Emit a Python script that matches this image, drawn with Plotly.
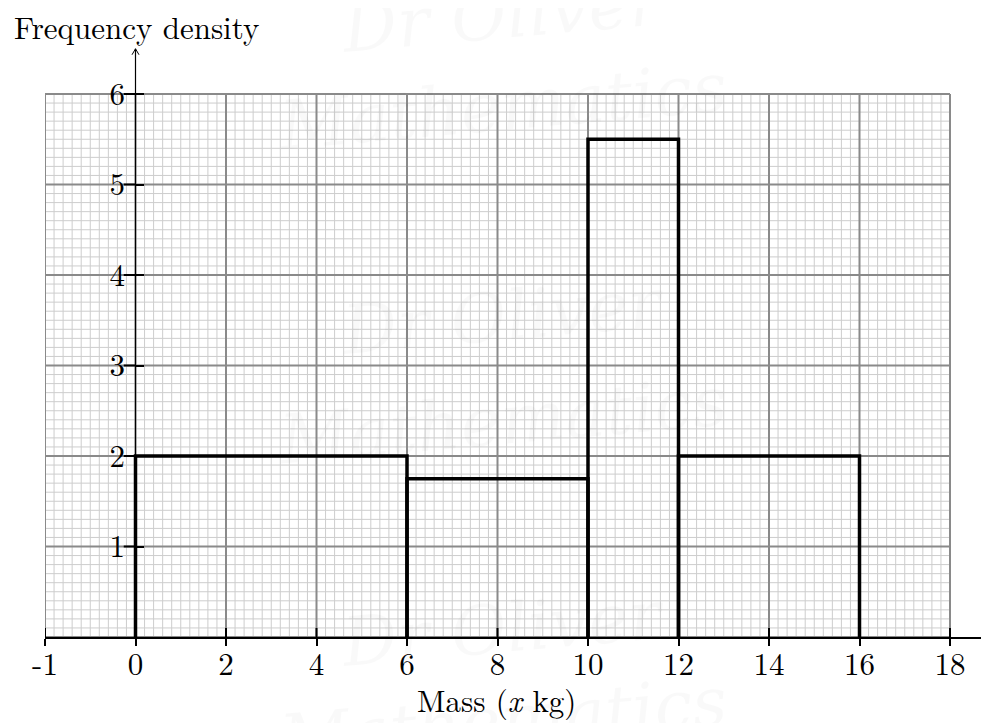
import numpy as np
import plotly.graph_objects as go

# histogram class boundaries and frequency densities
edges = [0, 6, 10, 12, 16]
heights = [2, 1.75, 5.5, 2]

# axis ticks (the first tick sits where -2 would be, but is labelled -1)
x_tickvals = [-2, 0, 2, 4, 6, 8, 10, 12, 14, 16, 18]
x_ticktext = ["-1", "0", "2", "4", "6", "8", "10", "12", "14", "16", "18"]
y_tickvals = [1, 2, 3, 4, 5, 6]
y_ticktext = ["1", "2", "3", "4", "5", "6"]

# graph paper extent
grid_x0, grid_x1 = -2, 18
grid_y0, grid_y1 = 0, 6

FONT = "Latin Modern Roman, CMU Serif, Liberation Serif, serif"
FS = 31


def grid_lines(xs, ys):
    gx, gy = [], []
    for x in xs:
        gx += [x, x, None]
        gy += [grid_y0, grid_y1, None]
    for y in ys:
        gx += [grid_x0, grid_x1, None]
        gy += [y, y, None]
    return gx, gy


fig = go.Figure()

# minor grid: 0.2 in x, 0.1 in y
mx, my = grid_lines(np.linspace(grid_x0, grid_x1, 101), np.linspace(grid_y0, grid_y1, 61))
fig.add_trace(go.Scatter(x=mx, y=my, mode="lines", line=dict(color="#cdcdcd", width=1),
                         hoverinfo="skip", showlegend=False))

# major grid: 2 in x, 1 in y
Mx, My = grid_lines(np.arange(grid_x0, grid_x1 + 1, 2), np.arange(grid_y0, grid_y1 + 1, 1))
fig.add_trace(go.Scatter(x=Mx, y=My, mode="lines", line=dict(color="#8a8a8a", width=2),
                         hoverinfo="skip", showlegend=False))

# y axis line up to the arrow
fig.add_trace(go.Scatter(x=[0, 0], y=[0, 6.5], mode="lines", line=dict(color="black", width=1.2),
                         hoverinfo="skip", showlegend=False))

# tick halves that sit inside the plot area (x ticks cross upward, y ticks cross leftward)
tx, ty = [], []
for v in x_tickvals:
    tx += [v, v, None]
    ty += [0, 0.1, None]
for v in y_tickvals:
    tx += [-0.26, 0, None]
    ty += [v, v, None]
fig.add_trace(go.Scatter(x=tx, y=ty, mode="lines", line=dict(color="black", width=2),
                         hoverinfo="skip", showlegend=False))

# histogram outlines
bx, by = [], []
for left, right, h in zip(edges[:-1], edges[1:], heights):
    bx += [left, left, right, right, None]
    by += [0, h, h, 0, None]
fig.add_trace(go.Scatter(x=bx, y=by, mode="lines", line=dict(color="black", width=3.5),
                         hoverinfo="skip", showlegend=False))

# open arrowhead on the y axis
fig.add_shape(type="path", xref="x", yref="y", xsizemode="pixel", ysizemode="pixel",
              xanchor=0, yanchor=6.5, path="M -3.5,-6 L 0,0 L 3.5,-6",
              line=dict(color="black", width=1))

# very faint watermark
for txt, yp in [("Dr Oliver", 1.05), ("Mathematics", 0.895), ("Dr Oliver", 0.54),
                ("Mathematics", 0.365), ("Dr Oliver", 0.015), ("Mathematics", -0.14)]:
    fig.add_annotation(text="<i>" + txt + "</i>", xref="paper", yref="paper", x=0.485, y=yp,
                       xanchor="center", yanchor="middle", showarrow=False, textangle=-5,
                       font=dict(family="DejaVu Serif", size=68, color="rgba(0,0,0,0.022)"))

fig.add_annotation(text="Frequency density", xref="paper", yref="paper", x=-0.035, y=1.0303,
                   xanchor="left", yanchor="middle", showarrow=False,
                   font=dict(family=FONT, size=FS, color="black"))
fig.add_annotation(text="Mass (<i>x</i> kg)", xref="paper", yref="paper", x=0.4788, y=-0.104,
                   xanchor="center", yanchor="middle", showarrow=False,
                   font=dict(family=FONT, size=FS, color="black"))

# the page adds an 8px body margin, so the figure is 8px smaller and margins shifted
fig.update_layout(
    width=981, height=715,
    margin=dict(l=37, r=0, t=36, b=86),
    plot_bgcolor="white", paper_bgcolor="white",
    xaxis=dict(range=[-2, -2 + 944 / 45.25], tickvals=x_tickvals, ticktext=x_ticktext,
               showgrid=False, zeroline=False, showline=True, linecolor="black", linewidth=1.5,
               ticks="outside", ticklen=7, tickwidth=2, tickcolor="black",
               ticklabelstandoff=-8, automargin=False,
               tickfont=dict(family=FONT, size=FS, color="black")),
    yaxis=dict(range=[0, 593 / 90.5], tickvals=y_tickvals, ticktext=y_ticktext,
               anchor="free", position=90 / 944, automargin=False,
               showgrid=False, zeroline=False, showline=False,
               ticks="inside", ticklen=8, tickwidth=2, tickcolor="black",
               ticklabelstandoff=10,
               tickfont=dict(family=FONT, size=FS, color="black")),
)

fig.write_html("out.html")
